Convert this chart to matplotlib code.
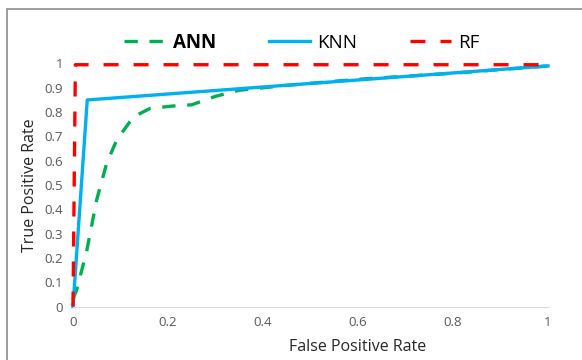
import matplotlib
matplotlib.use("Agg")
from matplotlib import pyplot as plt
from matplotlib.patches import Rectangle

# ROC curves
ann_fpr = [0.0, 0.008, 0.029, 0.05, 0.071, 0.092, 0.127, 0.162, 0.21, 0.25, 0.3, 0.35, 0.45, 0.6, 0.8, 1.0]
ann_tpr = [0.03, 0.07, 0.23, 0.44, 0.59, 0.685, 0.78, 0.815, 0.825, 0.83, 0.865, 0.89, 0.91, 0.935, 0.96, 0.99]
knn_fpr = [0.0, 0.03, 1.0]
knn_tpr = [0.0, 0.85, 0.99]
rf_fpr = [0.0, 0.005, 1.0]
rf_tpr = [0.0, 0.995, 0.995]

ticks = [0, 0.2, 0.4, 0.6, 0.8, 1]
yticks = [0, 0.1, 0.2, 0.3, 0.4, 0.5, 0.6, 0.7, 0.8, 0.9, 1]

plt.rcParams['font.family'] = ['Open Sans', 'DejaVu Sans']

fig = plt.figure(figsize=(5.82, 3.6), dpi=100)
fig.patches.append(Rectangle((7 / 582, -0.1), 1.2, (360 - 9) / 360 + 0.1, transform=fig.transFigure,
                             fill=False, edgecolor='#8c8c8c', linewidth=1.2))
ax = fig.add_axes([73 / 582, 1 - 306.5 / 360, 475 / 582, 243 / 360])

ax.plot(ann_fpr, ann_tpr, color='#00b050', linewidth=2.4, dashes=(4, 3.5), label='ANN', clip_on=False)
ax.plot(knn_fpr, knn_tpr, color='#00b0f0', linewidth=2.4, label='KNN', clip_on=False)
ax.plot(rf_fpr, rf_tpr, color='#ff0000', linewidth=2.4, dashes=(4.5, 4.5), label='RF', clip_on=False)

ax.set_xlim(0, 1)
ax.set_ylim(0, 1)
ax.set_xticks(ticks)
ax.set_xticklabels(['0', '0.2', '0.4', '0.6', '0.8', '1'])
ax.set_yticks(yticks)
ax.set_yticklabels(['0', '0.1', '0.2', '0.3', '0.4', '0.5', '0.6', '0.7', '0.8', '0.9', '1'])
ax.tick_params(length=0, labelsize=9.5, labelcolor='#595959', pad=7)
for s in ['top', 'right', 'left']:
    ax.spines[s].set_visible(False)
ax.spines['bottom'].set_color('#d9d9d9')

ax.set_ylabel('True Positive Rate', fontsize=11.5, color='#262626', labelpad=5)
fig.text(358 / 582, 1 - 347 / 360, 'False Positive Rate', fontsize=11.5, color='#262626', ha='center', va='center')

leg = fig.legend(loc='center', bbox_to_anchor=(302 / 582, 1 - 43 / 360), ncol=3, frameon=False,
                 fontsize=13.5, handlelength=2.2, columnspacing=2.8, handletextpad=0.4)
leg.get_texts()[0].set_fontweight('bold')

fig.savefig('out.png', dpi=100)
